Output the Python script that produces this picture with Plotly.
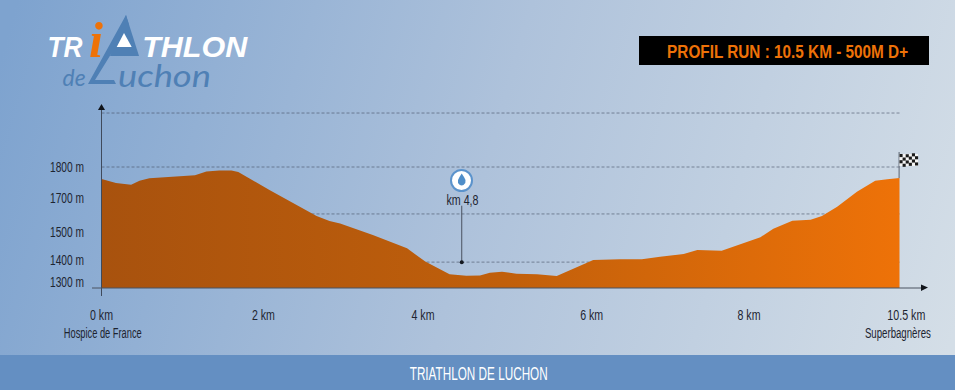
import json
import plotly.graph_objects as go

W, H = 955, 390
km = [0, 0.19, 0.39, 0.50, 0.63, 0.90, 1.23, 1.38, 1.55, 1.71, 1.80, 2.21, 2.83, 3.00, 3.14, 3.57, 4.02, 4.26,
      4.41, 4.58, 4.80, 4.98, 5.11, 5.27, 5.46, 5.73, 5.99, 6.21, 6.47, 6.82, 7.11, 7.35, 7.66, 7.84, 8.16, 8.67,
      8.84, 9.09, 9.33, 9.48, 9.68, 9.94, 10.18, 10.34, 10.5]
altitude = [1750, 1734, 1727, 1743, 1753, 1760, 1766, 1781, 1786, 1786, 1779, 1705, 1598, 1577, 1567, 1519, 1464,
            1409, 1386, 1357, 1351, 1352, 1363, 1367, 1359, 1357, 1350, 1381, 1416, 1419, 1419, 1429, 1440, 1457,
            1454, 1510, 1545, 1578, 1582, 1598, 1636, 1698, 1743, 1749, 1755]
x_tick_pos = [0, 2.13, 4.23, 6.45, 8.52, 10.59]
x_tick_text = ["0 km", "2 km", "4 km", "6 km", "8 km", "10.5 km"]
y_tick_pos = [1801, 1671, 1533, 1416, 1324]
y_tick_text = ["1800 m", "1700 m", "1500 m", "1400 m", "1300 m"]
grid_levels = [2023, 1800, 1606, 1407]
water_km = [4.74, 4.74]
water_alt = [1406, 1640]
BASE = 1300
FONT = "Liberation Sans"
DARK = "#1d2430"
ORANGE = "#ee7208"
BLUE = "#4f80b5"

X0, X1 = 90, 930          # plot domain in pixels
Y0, Y1 = 105, 296

# drawn width in pixels of each text: the reference uses a condensed face
text_widths = {"0 km": 23, "2 km": 23, "4 km": 23, "6 km": 23, "8 km": 23, "10.5 km": 38,
               "1800 m": 34, "1700 m": 34, "1500 m": 34, "1400 m": 34, "1300 m": 34,
               "Hospice de France": 78, "Superbagnères": 66, "km 4,8": 32,
               "PROFIL RUN : 10.5 KM - 500M D+": 241, "TRIATHLON DE LUCHON": 138,
               "TR": 35, "THLON": 105, "de": 23, "uchon": 93}


def px(x):
    return x / W


def py(y):
    return 1 - y / H


def kmx(p):
    return (p - 101.5) / 76.0


def rect(x0, y0, x1, y1, color, layer="above"):
    return dict(type="rect", xref="paper", yref="paper", x0=px(x0), x1=px(x1), y0=py(y0), y1=py(y1),
                fillcolor=color, line_width=0, layer=layer)


def path(points, color, layer="above"):
    d = "M " + " L ".join(f"{px(a):.5f},{py(b):.5f}" for a, b in points) + " Z"
    return dict(type="path", xref="paper", yref="paper", path=d, fillcolor=color, line_width=0, layer=layer)


def text(x, y, s, size, color=DARK, family=FONT, xanchor="center", **font_kw):
    return dict(xref="paper", yref="paper", x=px(x), y=py(y), text=s, showarrow=False, xanchor=xanchor,
                yanchor="middle", font=dict(family=family, size=size, color=color, **font_kw))


bg_svg = ("data:image/svg+xml;utf8,<svg xmlns='http://www.w3.org/2000/svg' width='955' height='390'>"
          "<defs><linearGradient id='g' gradientUnits='userSpaceOnUse' x1='0' y1='60' x2='955' y2='330'>"
          "<stop offset='0' stop-color='%237ea3cf'/><stop offset='0.5' stop-color='%23aec2db'/>"
          "<stop offset='1' stop-color='%23d4dee7'/></linearGradient></defs>"
          "<rect width='955' height='390' fill='url(%23g)'/></svg>")

fig = go.Figure()
fig.add_trace(go.Scatter(
    x=km + [km[-1], km[0]], y=altitude + [BASE, BASE], mode="lines", line=dict(width=0), fill="toself",
    fillgradient=dict(type="horizontal", colorscale=[[0, "#a8520e"], [0.5, "#c05f0b"], [1, ORANGE]]),
    hoverinfo="skip", showlegend=False))
fig.add_trace(go.Scatter(
    x=water_km, y=water_alt, mode="lines", line=dict(color="#4a5260", width=1), hoverinfo="skip", showlegend=False))
fig.add_trace(go.Scatter(
    x=water_km[:1], y=water_alt[:1], mode="markers", marker=dict(color="#14181f", size=4), hoverinfo="skip",
    showlegend=False))

shapes = []
shapes.append(rect(0, 355, W, 390, "#648fc2"))
shapes.append(rect(639, 36, 929, 65, "#000000"))
for g in grid_levels:
    shapes.append(dict(type="line", xref="x", yref="y", x0=0, x1=10.5, y0=g, y1=g, layer="below",
                       line=dict(color="rgba(70,80,100,0.6)", width=1, dash="3px,2px")))
shapes.append(dict(type="line", xref="x", yref="y", x0=0, x1=0, y0=1267, y1=2045, line=dict(color="#3f4a5c", width=1)))
shapes.append(dict(type="line", xref="x", yref="y", x0=kmx(92), x1=kmx(924), y0=BASE, y1=BASE,
                   line=dict(color="#4a5260", width=1)))
shapes.append(path([(98, 110), (101.5, 104), (105, 110)], "#10141a"))
shapes.append(path([(921, 284.5), (928, 287.5), (921, 291)], "#10141a"))
# finish flag
shapes.append(rect(898.6, 152, 899.6, 178, "#5a6270"))
shapes.append(rect(899.5, 154, 918, 166, "#f4f4f4"))
cell_w, cell_h = 3.1, 3.1
for r in range(4):
    for c in range(6):
        if (r + c) % 2 == 0:
            wave = -0.9 * c / 5 + (0.6 if c in (1, 2) else 0)
            shapes.append(rect(899.5 + c * cell_w, 154 + r * cell_h + wave,
                               899.5 + (c + 1) * cell_w, 154 + (r + 1) * cell_h + wave, "#1a1a1a"))
# water icon
shapes.append(dict(type="circle", xref="paper", yref="paper", x0=px(451), x1=px(472), y0=py(191), y1=py(170),
                   fillcolor="#ffffff", line=dict(color="#5b93cc", width=2)))
shapes.append(path([(461.7, 173.5), (464, 177), (465.5, 180), (465.3, 183), (463.5, 185), (461.7, 185.5),
                    (459.8, 185), (458, 183), (458, 180), (459.5, 177)], "#4f8ec9"))
# logo: the big triangle standing for the A and the L
shapes.append(path([(126, 15), (139, 56), (110, 56)], BLUE))
shapes.append(path([(126, 15), (129, 25), (95, 80), (114, 80), (116, 84), (88, 84)], BLUE))
shapes.append(path([(124, 33), (131.7, 47), (116.7, 47)], "#ffffff"))

annotations = [
    text(478, 373, "TRIATHLON DE LUCHON", 19, color="#ffffff"),
    text(787.5, 52, "PROFIL RUN : 10.5 KM - 500M D+", 18, color=ORANGE, weight="bold"),
    text(462, 199, "km 4,8", 15),
    text(103, 333, "Hospice de France", 14),
    text(898, 333, "Superbagnères", 14),
    # logo
    text(64.5, 46, "TR", 30, color="#ffffff", weight="bold", style="italic"),
    text(96, 40, "i", 50, color=ORANGE, family="Liberation Serif", weight="bold", style="italic"),
    text(195.5, 46, "THLON", 30, color="#ffffff", weight="bold", style="italic"),
    text(73.5, 77, "de", 24, color=BLUE, family="Lato", style="italic"),
    text(164.5, 75, "uchon", 30, color=BLUE, family="Lato", style="italic"),
]

fig.update_layout(
    width=W, height=H, autosize=False, margin=dict(l=0, r=0, t=0, b=0, pad=0),
    paper_bgcolor="#a9bfd9", plot_bgcolor="rgba(0,0,0,0)", showlegend=False, hovermode=False,
    images=[dict(source=bg_svg, xref="paper", yref="paper", x=0, y=1, sizex=1, sizey=1, sizing="stretch",
                 xanchor="left", yanchor="top", layer="below")],
    shapes=shapes, annotations=annotations,
    xaxis=dict(domain=[X0 / W, X1 / W], range=[kmx(X0), kmx(X1)], tickmode="array", tickvals=x_tick_pos,
               ticktext=x_tick_text, showgrid=False, zeroline=False, showline=False, ticks="outside", ticklen=5,
               tickcolor="rgba(0,0,0,0)", tickfont=dict(family=FONT, size=15, color=DARK), automargin=False),
    yaxis=dict(domain=[1 - Y1 / H, 1 - Y0 / H], range=[BASE + (288 - Y1) / 0.242, BASE + (288 - Y0) / 0.242],
               tickmode="array", tickvals=y_tick_pos, ticktext=y_tick_text, showgrid=False, zeroline=False,
               showline=False, ticks="outside", ticklen=2, tickcolor="rgba(0,0,0,0)",
               tickfont=dict(family=FONT, size=15, color=DARK), automargin=False),
)
squeeze = ("var w=" + json.dumps(text_widths) + ";"
           "document.body.style.margin='0';document.body.style.overflow='hidden';"
           "document.querySelectorAll('svg text').forEach(function(t){var n=w[t.textContent];"
           "if(n){t.setAttribute('textLength',n);t.setAttribute('lengthAdjust','spacingAndGlyphs');}});")
fig.write_html("out.html", config=dict(displayModeBar=False), post_script=squeeze)
